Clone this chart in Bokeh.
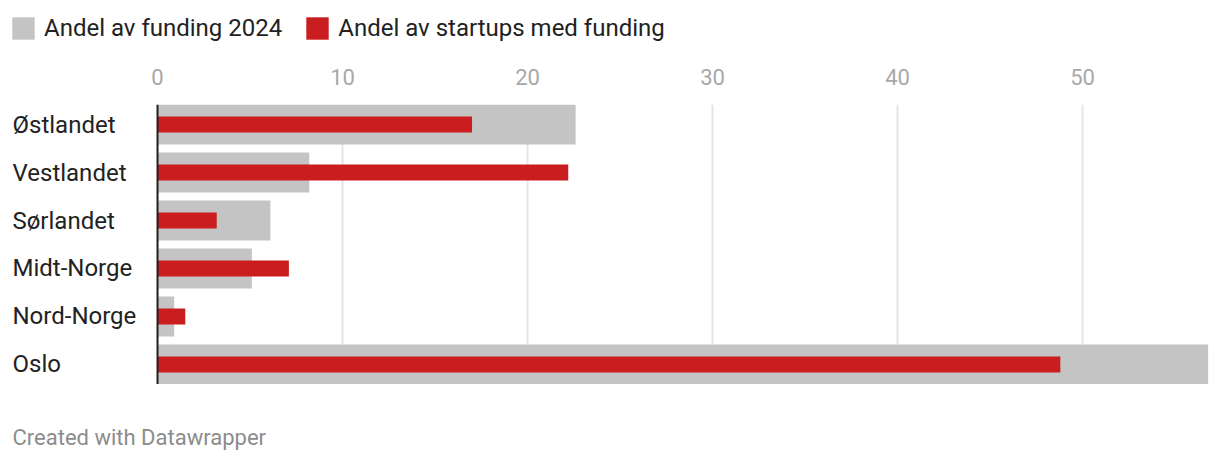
from bokeh.plotting import figure
from bokeh.layouts import column
from bokeh.models import Range1d, FixedTicker, Span, Legend, LegendItem
from bokeh.core.properties import value
from bokeh.embed import file_html
from bokeh.resources import INLINE

regions = ["Østlandet", "Vestlandet", "Sørlandet", "Midt-Norge", "Nord-Norge", "Oslo"]
funding_share = [22.6, 8.2, 6.1, 5.1, 0.9, 56.8]
startup_share = [17.0, 22.2, 3.2, 7.1, 1.5, 48.8]
x_ticks = [0, 10, 20, 30, 40, 50]
series_names = ["Andel av funding 2024", "Andel av startups med funding"]
footer_text = "Created with Datawrapper"

GRAY = "#c4c4c4"
RED = "#c91d1f"
FONT = "Roboto"
W = 1212
LEG_H = 50
MAIN_BOTTOM = 384
FOOT_H = 70


def bare_figure(height, yr):
    f = figure(width=W, height=height, output_backend="svg", toolbar_location=None,
               x_range=Range1d(0, W), y_range=Range1d(0, yr),
               x_axis_location=None, y_axis_location=None,
               min_border=0, min_border_left=0, min_border_right=0,
               min_border_top=0, min_border_bottom=0)
    f.outline_line_color = None
    f.grid.visible = False
    return f


# ---- legend strip (zero-size swatch renderers, only used for legend glyphs) ----
lf = bare_figure(LEG_H, LEG_H)
lg = lf.hbar(y=[0], left=[0], right=[0], height=0, fill_color=GRAY, line_color=None)
lr = lf.hbar(y=[0], left=[0], right=[0], height=0, fill_color=RED, line_color=None)
legend = Legend(items=[LegendItem(label=series_names[0], renderers=[lg]),
                       LegendItem(label=series_names[1], renderers=[lr])],
                orientation="horizontal", location=(-3, 8),
                glyph_width=28, glyph_height=28, label_standoff=7, spacing=21,
                padding=0, margin=0, border_line_color=None, background_fill_alpha=0,
                label_text_font=FONT, label_text_font_size="24px", label_text_color="#222222")
lf.add_layout(legend)

# ---- main chart ----
ys = list(range(len(regions)))
x_start, x_end = -7.84, 56.81

p = figure(width=W, height=MAIN_BOTTOM - LEG_H, output_backend="svg", toolbar_location=None,
           x_range=Range1d(x_start, x_end), y_range=Range1d(5.4167, -0.4167),
           x_axis_location="above", y_axis_location=None,
           min_border_left=12, min_border_right=4, min_border_top=104 - LEG_H, min_border_bottom=0)
p.outline_line_color = None
p.ygrid.visible = False
p.xgrid.ticker = FixedTicker(ticks=x_ticks)
p.xgrid.grid_line_color = "#e5e5e5"
p.xgrid.grid_line_width = 2

ax = p.xaxis[0]
ax.ticker = FixedTicker(ticks=x_ticks)
ax.axis_line_color = None
ax.major_tick_line_color = None
ax.minor_tick_line_color = None
ax.major_label_text_color = "#a8a8a8"
ax.major_label_text_font = FONT
ax.major_label_text_font_size = "22px"
ax.major_label_standoff = 14

p.hbar(y=ys, left=0, right=funding_share, height=40/48, fill_color=GRAY, line_color=None)
p.hbar(y=ys, left=0, right=startup_share, height=16/48, fill_color=RED, line_color=None)

p.add_layout(Span(location=0, dimension="height", line_color="#222222", line_width=2))

p.text(x=[x_start] * len(regions), y=ys, text=regions, text_align="left", text_baseline="middle",
       text_font=value(FONT), text_font_size="24px", text_color="#222222")

# ---- footer strip ----
ff = bare_figure(FOOT_H, FOOT_H)
ff.text(x=[0], y=[FOOT_H - 53], text=[footer_text], text_align="left", text_baseline="middle",
        text_font=value(FONT), text_font_size="22px", text_color="#8c8c8c")

layout = column(lf, p, ff, spacing=0)
open("out.html", "w").write(file_html(layout, INLINE))
